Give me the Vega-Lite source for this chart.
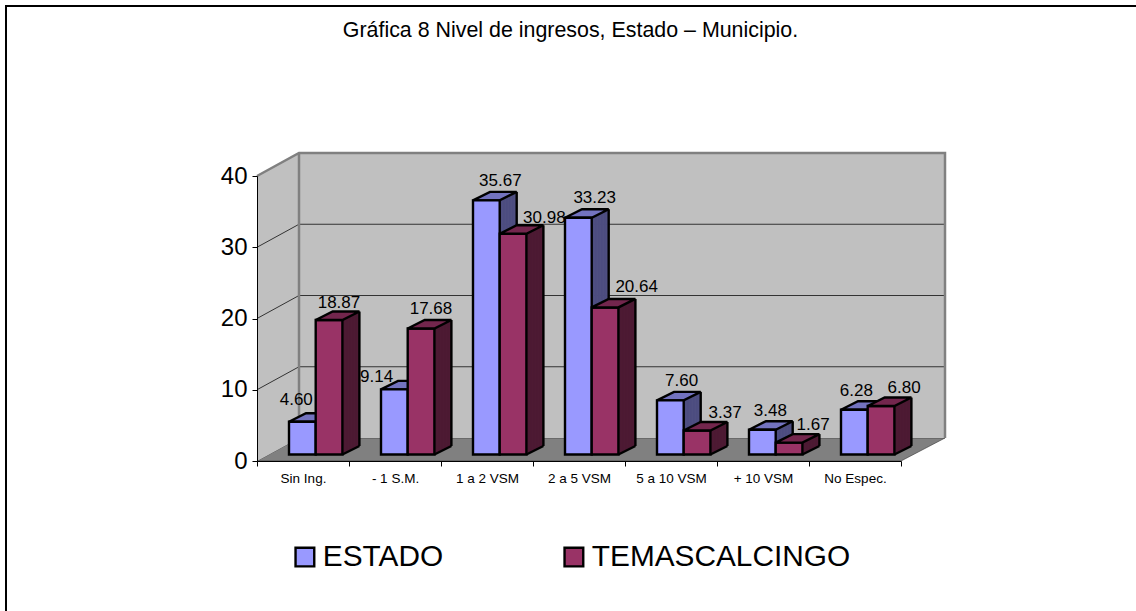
{"$schema":"https://vega.github.io/schema/vega-lite/v6.json","width":644,"height":285,"autosize":"none","padding":{"left":257,"top":176,"right":235,"bottom":150},"background":"white","config":{"view":{"stroke":null},"font":"Liberation Sans"},"title":{"text":"Gráfica 8  Nivel de ingresos, Estado – Municipio.","fontSize":21.4,"fontWeight":"normal","font":"Liberation Sans","color":"black","anchor":"middle","dx":-8.5,"offset":-39},"data":{"values":[{"cat":"Sin Ing.","serie":"ESTADO","v":4.6},{"cat":"Sin Ing.","serie":"TEMASCALCINGO","v":18.87},{"cat":"- 1 S.M.","serie":"ESTADO","v":9.14},{"cat":"- 1 S.M.","serie":"TEMASCALCINGO","v":17.68},{"cat":"1 a 2 VSM","serie":"ESTADO","v":35.67},{"cat":"1 a 2 VSM","serie":"TEMASCALCINGO","v":30.98},{"cat":"2 a 5 VSM","serie":"ESTADO","v":33.23},{"cat":"2 a 5 VSM","serie":"TEMASCALCINGO","v":20.64},{"cat":"5 a 10 VSM","serie":"ESTADO","v":7.6},{"cat":"5 a 10 VSM","serie":"TEMASCALCINGO","v":3.37},{"cat":"+ 10 VSM","serie":"ESTADO","v":3.48},{"cat":"+ 10 VSM","serie":"TEMASCALCINGO","v":1.67},{"cat":"No Espec.","serie":"ESTADO","v":6.28},{"cat":"No Espec.","serie":"TEMASCALCINGO","v":6.8}]},"encoding":{"x":{"field":"cat","type":"nominal","title":null,"scale":{"domain":["Sin Ing.","- 1 S.M.","1 a 2 VSM","2 a 5 VSM","5 a 10 VSM","+ 10 VSM","No Espec."],"paddingInner":0,"paddingOuter":0},"axis":{"labelAngle":0,"labelFontSize":13.5,"labelColor":"black","labelFont":"Liberation Sans","tickBand":"extent","tickSize":5,"tickColor":"black","domainColor":"black","labelPadding":5,"zindex":1,"grid":false}},"y":{"field":"v","type":"quantitative","title":null,"scale":{"domain":[0,40],"nice":false},"axis":{"values":[0,10,20,30,40],"labelFontSize":24,"labelColor":"black","labelFont":"Liberation Sans","tickSize":5,"tickColor":"black","domainColor":"black","labelPadding":5,"zindex":1,"grid":false}}},"layer":[{"data":{"values":[{"cat":"Sin Ing.","v":0}]},"mark":{"type":"point","shape":"M-297,150L-297,-455L833,-455","size":4,"filled":false,"fill":null,"stroke":"black","strokeWidth":2,"opacity":1}},{"data":{"values":[{"cat":"Sin Ing.","v":0}]},"mark":{"type":"point","shape":"M-46,0L-4,-23L642,-23L598,0Z","size":4,"filled":true,"fill":"#808080","stroke":"#333333","strokeWidth":0.6,"opacity":1}},{"data":{"values":[{"cat":"Sin Ing.","v":0}]},"mark":{"type":"point","shape":"M-46,-285L-4,-308L642,-308L642,-23L-4,-23L-46,0Z","size":4,"filled":true,"fill":"#C0C0C0","stroke":null,"opacity":1}},{"data":{"values":[{"cat":"Sin Ing.","v":10},{"cat":"Sin Ing.","v":20},{"cat":"Sin Ing.","v":30}]},"mark":{"type":"point","shape":"M-46,0L-4,-23L642,-23","size":4,"filled":false,"fill":null,"stroke":"#333333","strokeWidth":1,"opacity":1}},{"data":{"values":[{"cat":"Sin Ing.","v":0}]},"mark":{"type":"point","shape":"M-46,-285L-4,-308L642,-308L642,-23M-4,-308L-4,-23","size":4,"filled":false,"fill":null,"stroke":"#808080","strokeWidth":2.5,"opacity":1}},
{"transform":[{"filter":"datum.serie=='ESTADO'"}],"layer":[
{"mark":{"type":"rule","stroke":"#4D4D80","strokeWidth":2.2,"xOffset":13.2,"yOffset":-6.75,"y2Offset":-6.75},"encoding":{"y2":{"datum":0}}},
{"mark":{"type":"rule","stroke":"#4D4D80","strokeWidth":2.2,"xOffset":14.7,"yOffset":-7.5,"y2Offset":-7.5},"encoding":{"y2":{"datum":0}}},
{"mark":{"type":"rule","stroke":"#4D4D80","strokeWidth":2.2,"xOffset":16.2,"yOffset":-8.25,"y2Offset":-8.25},"encoding":{"y2":{"datum":0}}},
{"mark":{"type":"rule","stroke":"#4D4D80","strokeWidth":2.2,"xOffset":17.7,"yOffset":-9,"y2Offset":-9},"encoding":{"y2":{"datum":0}}},
{"mark":{"type":"rule","stroke":"#4D4D80","strokeWidth":2.2,"xOffset":19.2,"yOffset":-9.75,"y2Offset":-9.75},"encoding":{"y2":{"datum":0}}},
{"mark":{"type":"rule","stroke":"#4D4D80","strokeWidth":2.2,"xOffset":20.7,"yOffset":-10.5,"y2Offset":-10.5},"encoding":{"y2":{"datum":0}}},
{"mark":{"type":"rule","stroke":"#4D4D80","strokeWidth":2.2,"xOffset":22.2,"yOffset":-11.25,"y2Offset":-11.25},"encoding":{"y2":{"datum":0}}},
{"mark":{"type":"rule","stroke":"#4D4D80","strokeWidth":2.2,"xOffset":23.7,"yOffset":-12,"y2Offset":-12},"encoding":{"y2":{"datum":0}}},
{"mark":{"type":"rule","stroke":"#4D4D80","strokeWidth":2.2,"xOffset":25.2,"yOffset":-12.75,"y2Offset":-12.75},"encoding":{"y2":{"datum":0}}},
{"mark":{"type":"rule","stroke":"#4D4D80","strokeWidth":2.2,"xOffset":26.7,"yOffset":-13.5,"y2Offset":-13.5},"encoding":{"y2":{"datum":0}}},
{"mark":{"type":"rule","stroke":"#4D4D80","strokeWidth":2.2,"xOffset":28.2,"yOffset":-14.25,"y2Offset":-14.25},"encoding":{"y2":{"datum":0}}},
{"mark":{"type":"rule","stroke":"black","strokeWidth":2.4,"xOffset":29.7,"yOffset":-15,"y2Offset":-15},"encoding":{"y2":{"datum":0}}},
{"mark":{"type":"point","shape":"M-0.65,-6.5L26.05,-6.5L43.05,-15L16.35,-15Z","size":4,"filled":true,"fill":"#7373BF","stroke":"black","strokeWidth":2.4,"opacity":1,"xOffset":-13.35}},
{"mark":{"type":"bar","width":26.7,"stroke":"black","strokeWidth":2.4,"xOffset":-0.65,"yOffset":-6.5,"y2Offset":-6.5},"encoding":{"color":{"field":"serie","type":"nominal","title":null,"scale":{"domain":["ESTADO","TEMASCALCINGO"],"range":["#9999FF","#993366"]},"legend":{"orient":"none","legendX":33,"legendY":366,"direction":"horizontal","columns":2,"columnPadding":115,"padding":0,"symbolType":"square","symbolSize":350,"symbolStrokeColor":"black","symbolStrokeWidth":2.4,"symbolOpacity":1,"labelFontSize":29.8,"labelFont":"Liberation Sans","labelColor":"black","labelOffset":3,"labelLimit":400}}}}
]},
{"transform":[{"filter":"datum.serie=='TEMASCALCINGO'"}],"layer":[
{"mark":{"type":"rule","stroke":"#4D1A33","strokeWidth":2.2,"xOffset":39.9,"yOffset":-6.75,"y2Offset":-6.75},"encoding":{"y2":{"datum":0}}},
{"mark":{"type":"rule","stroke":"#4D1A33","strokeWidth":2.2,"xOffset":41.4,"yOffset":-7.5,"y2Offset":-7.5},"encoding":{"y2":{"datum":0}}},
{"mark":{"type":"rule","stroke":"#4D1A33","strokeWidth":2.2,"xOffset":42.9,"yOffset":-8.25,"y2Offset":-8.25},"encoding":{"y2":{"datum":0}}},
{"mark":{"type":"rule","stroke":"#4D1A33","strokeWidth":2.2,"xOffset":44.4,"yOffset":-9,"y2Offset":-9},"encoding":{"y2":{"datum":0}}},
{"mark":{"type":"rule","stroke":"#4D1A33","strokeWidth":2.2,"xOffset":45.9,"yOffset":-9.75,"y2Offset":-9.75},"encoding":{"y2":{"datum":0}}},
{"mark":{"type":"rule","stroke":"#4D1A33","strokeWidth":2.2,"xOffset":47.4,"yOffset":-10.5,"y2Offset":-10.5},"encoding":{"y2":{"datum":0}}},
{"mark":{"type":"rule","stroke":"#4D1A33","strokeWidth":2.2,"xOffset":48.9,"yOffset":-11.25,"y2Offset":-11.25},"encoding":{"y2":{"datum":0}}},
{"mark":{"type":"rule","stroke":"#4D1A33","strokeWidth":2.2,"xOffset":50.4,"yOffset":-12,"y2Offset":-12},"encoding":{"y2":{"datum":0}}},
{"mark":{"type":"rule","stroke":"#4D1A33","strokeWidth":2.2,"xOffset":51.9,"yOffset":-12.75,"y2Offset":-12.75},"encoding":{"y2":{"datum":0}}},
{"mark":{"type":"rule","stroke":"#4D1A33","strokeWidth":2.2,"xOffset":53.4,"yOffset":-13.5,"y2Offset":-13.5},"encoding":{"y2":{"datum":0}}},
{"mark":{"type":"rule","stroke":"#4D1A33","strokeWidth":2.2,"xOffset":54.9,"yOffset":-14.25,"y2Offset":-14.25},"encoding":{"y2":{"datum":0}}},
{"mark":{"type":"rule","stroke":"black","strokeWidth":2.4,"xOffset":56.4,"yOffset":-15,"y2Offset":-15},"encoding":{"y2":{"datum":0}}},
{"mark":{"type":"point","shape":"M26.05,0L43.05,-8.5","size":4,"filled":false,"fill":null,"stroke":"black","strokeWidth":2.4,"opacity":1,"xOffset":13.35,"yOffset":-6.5},"encoding":{"y":{"datum":0}}},
{"mark":{"type":"bar","width":26.7,"stroke":"black","strokeWidth":2.4,"xOffset":26.05,"yOffset":-6.5,"y2Offset":-6.5},"encoding":{"color":{"field":"serie","type":"nominal","legend":null}}},
{"mark":{"type":"point","shape":"M-0.65,-6.5L26.05,-6.5L43.05,-15L16.35,-15Z","size":4,"filled":true,"fill":"#73264D","stroke":"black","strokeWidth":2.4,"opacity":1,"xOffset":13.35}}
]},
{"transform":[{"filter":"datum.v==4.6"}],"mark":{"type":"text","fontSize":17,"color":"black","dx":-6.75,"dy":-28},"encoding":{"text":{"field":"v","format":".2f"}}},
{"transform":[{"filter":"datum.v==18.87"}],"mark":{"type":"text","fontSize":17,"color":"black","dx":35.95,"dy":-23.6},"encoding":{"text":{"field":"v","format":".2f"}}},
{"transform":[{"filter":"datum.v==9.14"}],"mark":{"type":"text","fontSize":17,"color":"black","dx":-18.35,"dy":-19},"encoding":{"text":{"field":"v","format":".2f"}}},
{"transform":[{"filter":"datum.v==17.68"}],"mark":{"type":"text","fontSize":17,"color":"black","dx":35.95,"dy":-26},"encoding":{"text":{"field":"v","format":".2f"}}},
{"transform":[{"filter":"datum.v==35.67"}],"mark":{"type":"text","fontSize":17,"color":"black","dx":13.35,"dy":-26},"encoding":{"text":{"field":"v","format":".2f"}}},
{"transform":[{"filter":"datum.v==30.98"}],"mark":{"type":"text","fontSize":17,"color":"black","dx":57.35,"dy":-22.6},"encoding":{"text":{"field":"v","format":".2f"}}},
{"transform":[{"filter":"datum.v==33.23"}],"mark":{"type":"text","fontSize":17,"color":"black","dx":15.65,"dy":-26.5},"encoding":{"text":{"field":"v","format":".2f"}}},
{"transform":[{"filter":"datum.v==20.64"}],"mark":{"type":"text","fontSize":17,"color":"black","dx":57.65,"dy":-26.7},"encoding":{"text":{"field":"v","format":".2f"}}},
{"transform":[{"filter":"datum.v==7.6"}],"mark":{"type":"text","fontSize":17,"color":"black","dx":10.65,"dy":-25.8},"encoding":{"text":{"field":"v","format":".2f"}}},
{"transform":[{"filter":"datum.v==3.37"}],"mark":{"type":"text","fontSize":17,"color":"black","dx":54.05,"dy":-23.7},"encoding":{"text":{"field":"v","format":".2f"}}},
{"transform":[{"filter":"datum.v==3.48"}],"mark":{"type":"text","fontSize":17,"color":"black","dx":7.35,"dy":-25.5},"encoding":{"text":{"field":"v","format":".2f"}}},
{"transform":[{"filter":"datum.v==1.67"}],"mark":{"type":"text","fontSize":17,"color":"black","dx":50.05,"dy":-24},"encoding":{"text":{"field":"v","format":".2f"}}},
{"transform":[{"filter":"datum.v==6.28"}],"mark":{"type":"text","fontSize":17,"color":"black","dx":1.35,"dy":-25.3},"encoding":{"text":{"field":"v","format":".2f"}}},
{"transform":[{"filter":"datum.v==6.8"}],"mark":{"type":"text","fontSize":17,"color":"black","dx":49.05,"dy":-25},"encoding":{"text":{"field":"v","format":".2f"}}}
]}
